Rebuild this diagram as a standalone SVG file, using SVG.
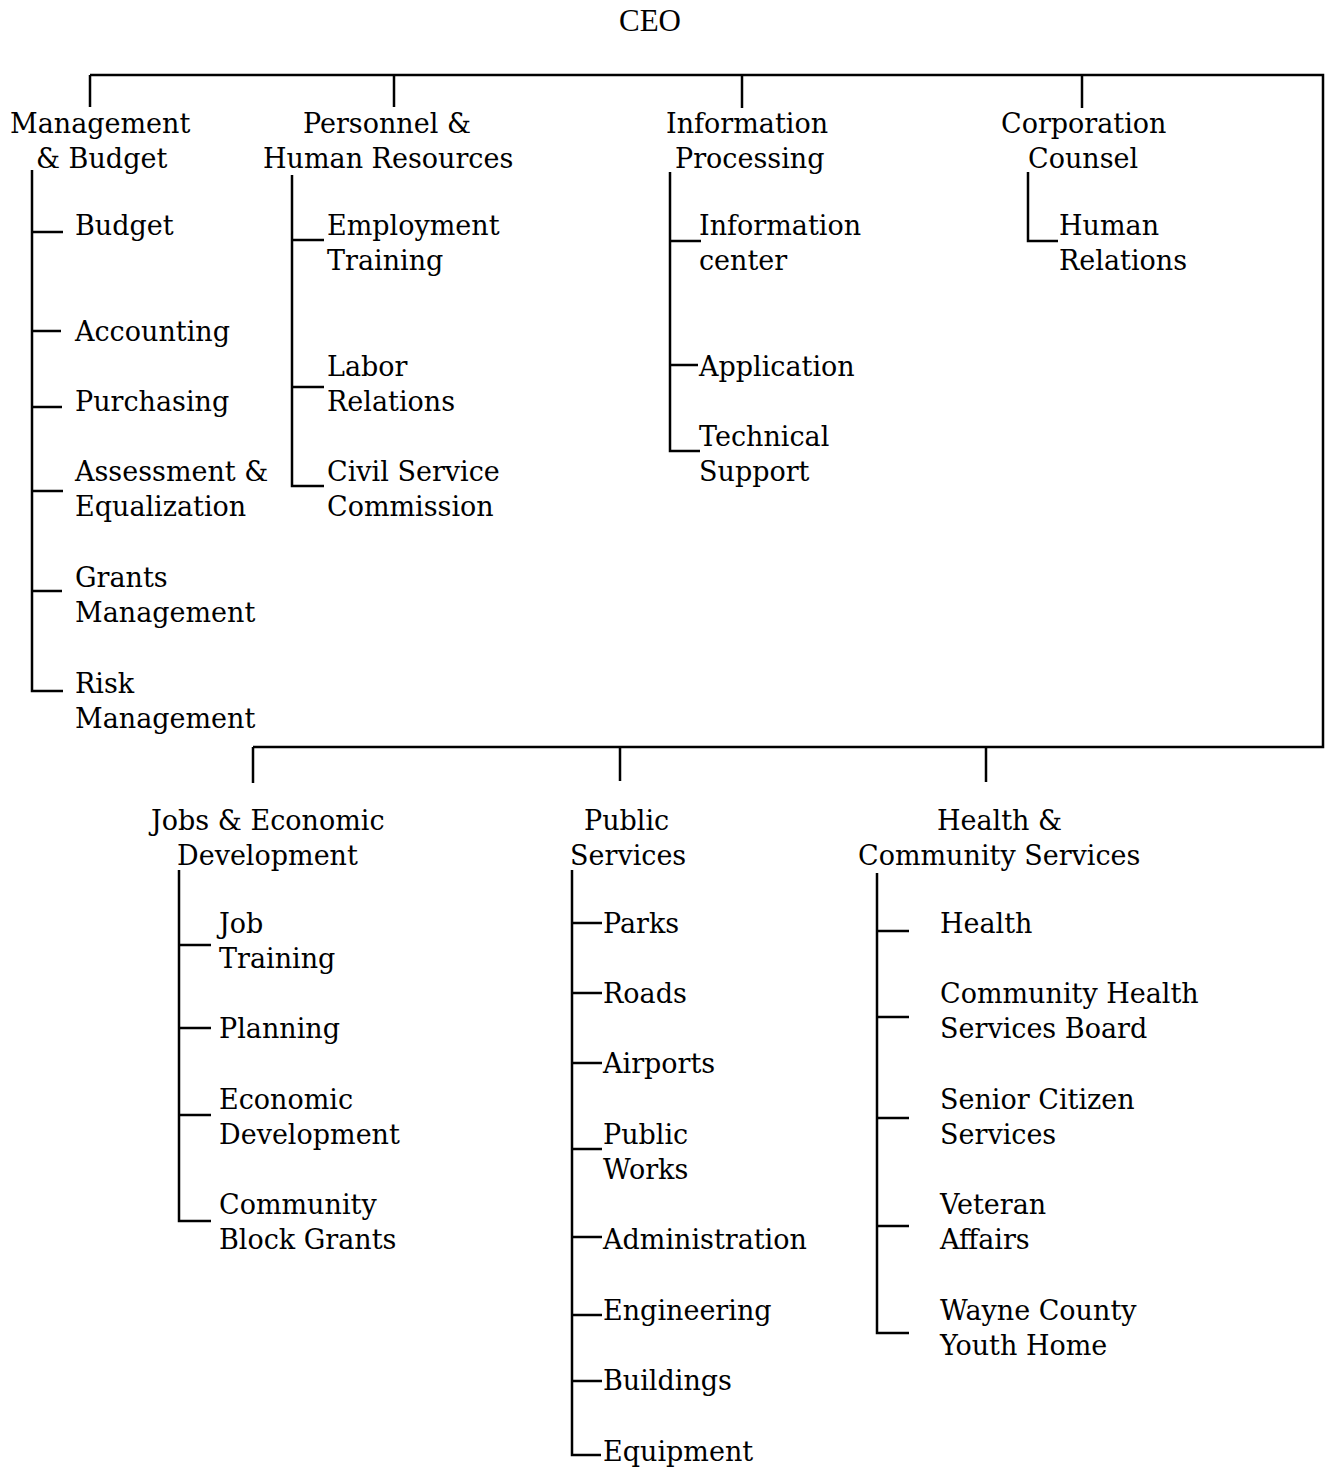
<svg xmlns="http://www.w3.org/2000/svg" width="1325" height="1469" viewBox="0 0 1325 1469">
<style>
text{font-family:"DejaVu Serif","Liberation Serif",serif;font-size:27px;fill:#000}
.ceo{font-family:"Liberation Serif","DejaVu Serif",serif;font-size:31px}
.ln{stroke:#000;stroke-width:2.5;fill:none}
</style>
<rect width="1325" height="1469" fill="#fff"/>
<g id="connectors" class="ln">
<path d="M90,75 H1323 V747 H253"/>
<path d="M90,75 V107 M394,75 V107 M742,75 V108 M1082,75 V108"/>
<path d="M253,747 V783 M620,747 V781 M986,747 V782"/>
<path d="M32,170 V691 H63 M32,232 H63 M32,331 H61 M32,407 H62 M32,491 H63 M32,591 H62"/>
<path d="M292,175 V486 H324 M292,240 H324 M292,387 H324"/>
<path d="M670,172 V451 H700 M670,241 H701 M670,365 H698"/>
<path d="M1028,172 V241 H1058"/>
<path d="M179,870 V1221 H211 M179,945 H211 M179,1028 H211 M179,1115 H211"/>
<path d="M572,870 V1455 H601 M572,923 H602 M572,993 H602 M572,1063 H602 M572,1149 H602 M572,1237 H602 M572,1315 H602 M572,1381 H602"/>
<path d="M877,873 V1333 H909 M877,931 H909 M877,1017 H909 M877,1118 H909 M877,1226 H909"/>
</g>
<g id="ceo"><text class="ceo" x="619" y="31">CEO</text></g>
<g id="mgmt"><text x="10" y="133">Management</text><text x="36" y="168">&amp; Budget</text></g>
<g id="personnel"><text x="303" y="133">Personnel &amp;</text><text x="263" y="168">Human Resources</text></g>
<g id="info"><text x="666" y="133">Information</text><text x="675" y="168">Processing</text></g>
<g id="corp"><text x="1001" y="133">Corporation</text><text x="1028" y="168">Counsel</text></g>
<g id="budget"><text x="75" y="235">Budget</text></g>
<g id="accounting"><text x="75" y="341">Accounting</text></g>
<g id="purchasing"><text x="75" y="411">Purchasing</text></g>
<g id="assessment"><text x="75" y="481">Assessment &amp;</text><text x="75" y="516">Equalization</text></g>
<g id="grants"><text x="75" y="587">Grants</text><text x="75" y="622">Management</text></g>
<g id="risk"><text x="75" y="693">Risk</text><text x="75" y="728">Management</text></g>
<g id="employment"><text x="327" y="235">Employment</text><text x="327" y="270">Training</text></g>
<g id="labor"><text x="327" y="376">Labor</text><text x="327" y="411">Relations</text></g>
<g id="civil"><text x="327" y="481">Civil Service</text><text x="327" y="516">Commission</text></g>
<g id="infocenter"><text x="699" y="235">Information</text><text x="699" y="270">center</text></g>
<g id="application"><text x="699" y="376">Application</text></g>
<g id="technical"><text x="699" y="446">Technical</text><text x="699" y="481">Support</text></g>
<g id="humanrel"><text x="1059" y="235">Human</text><text x="1059" y="270">Relations</text></g>
<g id="jobs"><text x="151" y="830">Jobs &amp; Economic</text><text x="177" y="865">Development</text></g>
<g id="public"><text x="584" y="830">Public</text><text x="570" y="865">Services</text></g>
<g id="health"><text x="937" y="830">Health &amp;</text><text x="858" y="865">Community Services</text></g>
<g id="jobtraining"><text x="219" y="933">Job</text><text x="219" y="968">Training</text></g>
<g id="planning"><text x="219" y="1038">Planning</text></g>
<g id="econdev"><text x="219" y="1109">Economic</text><text x="219" y="1144">Development</text></g>
<g id="blockgrants"><text x="219" y="1214">Community</text><text x="219" y="1249">Block Grants</text></g>
<g id="parks"><text x="603" y="933">Parks</text></g>
<g id="roads"><text x="603" y="1003">Roads</text></g>
<g id="airports"><text x="603" y="1073">Airports</text></g>
<g id="publicworks"><text x="603" y="1144">Public</text><text x="603" y="1179">Works</text></g>
<g id="administration"><text x="603" y="1249">Administration</text></g>
<g id="engineering"><text x="603" y="1320">Engineering</text></g>
<g id="buildings"><text x="603" y="1390">Buildings</text></g>
<g id="equipment"><text x="603" y="1461">Equipment</text></g>
<g id="healthdept"><text x="940" y="933">Health</text></g>
<g id="commhealth"><text x="940" y="1003">Community Health</text><text x="940" y="1038">Services Board</text></g>
<g id="senior"><text x="940" y="1109">Senior Citizen</text><text x="940" y="1144">Services</text></g>
<g id="veteran"><text x="940" y="1214">Veteran</text><text x="940" y="1249">Affairs</text></g>
<g id="wayne"><text x="940" y="1320">Wayne County</text><text x="940" y="1355">Youth Home</text></g>
</svg>
